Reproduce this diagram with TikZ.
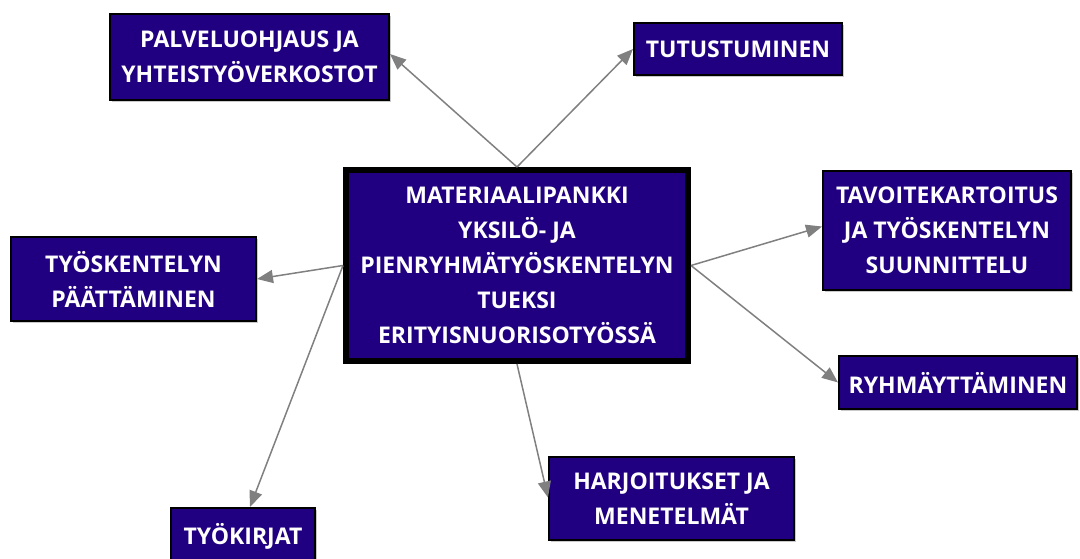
\documentclass[tikz,border=0pt]{standalone}
\usepackage{fontspec}
\setmainfont{Open Sans}
\usetikzlibrary{arrows.meta,shadows}
\definecolor{boxfill}{RGB}{32,0,128}
\definecolor{conncol}{RGB}{128,128,128}
\tikzset{
  box/.style={draw=black, line width=2pt, fill=boxfill, text=white,
    font=\fontsize{23}{35}\selectfont\bfseries, align=center, inner sep=0pt,
    drop shadow={shadow xshift=2pt, shadow yshift=-2pt, fill=black!35, opacity=0.6}},
  mainbox/.style={box, line width=6pt},
  conn/.style={draw=conncol, line width=1.5pt, -{Triangle[length=16pt,width=13pt]}},
}
\begin{document}
\begin{tikzpicture}[x=1pt,y=-1pt]
\useasboundingbox (0,0) rectangle (1080,558);
\begin{scope}
\clip (0,0) rectangle (1080,558);
\node[mainbox, minimum width=342pt, minimum height=191pt] (c) at (517,265.5)
  {MATERIAALIPANKKI\\YKSILÖ- JA\\PIENRYHMÄTYÖSKENTELYN\\TUEKSI\\ERITYISNUORISOTYÖSSÄ};
\node[box, minimum width=279pt, minimum height=86pt] (palv) at (249.5,57)
  {PALVELUOHJAUS JA\\YHTEISTYÖVERKOSTOT};
\node[box, minimum width=208pt, minimum height=52pt] (tutu) at (738,49)
  {TUTUSTUMINEN};
\node[box, minimum width=248pt, minimum height=119pt] (tavo) at (947,230.5)
  {TAVOITEKARTOITUS\\JA TYÖSKENTELYN\\SUUNNITTELU};
\node[box, minimum width=238pt, minimum height=53pt] (ryhm) at (958,382.5)
  {RYHMÄYTTÄMINEN};
\node[box, minimum width=245pt, minimum height=83pt] (harj) at (671.5,498.5)
  {HARJOITUKSET JA\\MENETELMÄT};
\node[box, minimum width=144pt, minimum height=56pt] (tyok) at (243,536)
  {TYÖKIRJAT};
\node[box, minimum width=245pt, minimum height=84pt] (tyos) at (133.5,279)
  {TYÖSKENTELYN\\PÄÄTTÄMINEN};
\end{scope}
\draw[conn] (c.north) -- ([yshift=3pt]palv.east);
\draw[conn] (c.north) -- (tutu.west);
\draw[conn] (c.east) -- ([yshift=4pt]tavo.west);
\draw[conn] (c.east) -- (ryhm.west);
\draw[conn] (c.south) -- ([yshift=1pt]harj.west);
\draw[conn] (c.west) -- ([xshift=7pt]tyok.north);
\draw[conn] (c.west) -- (tyos.east);
\end{tikzpicture}
\end{document}
